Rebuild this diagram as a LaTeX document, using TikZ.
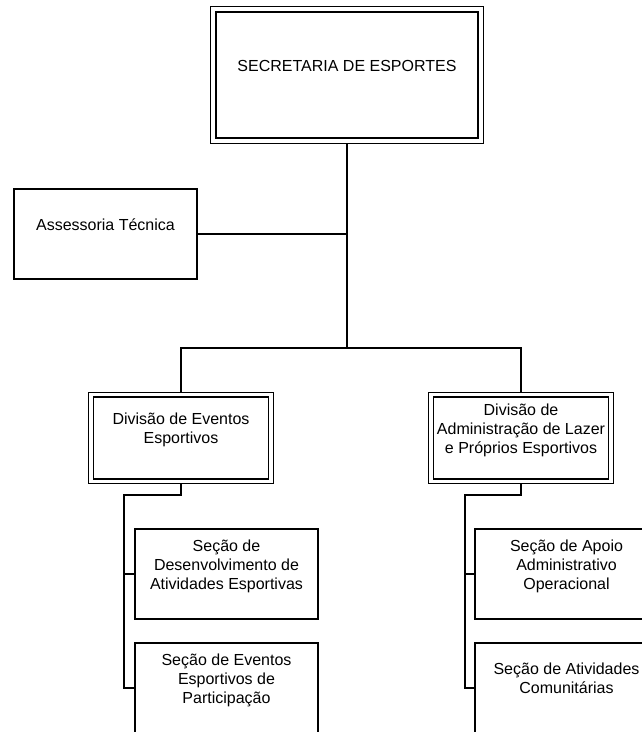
\documentclass[tikz,border=0pt]{standalone}
\usepackage{fontspec}
\setmainfont{Liberation Sans}
\usepackage{xcolor}
\usetikzlibrary{positioning,fit}

\tikzset{
  caixa/.style={draw, line width=1.3pt, minimum width=183pt, minimum height=90pt,
    inner sep=0pt, outer sep=0pt, align=center, font=\fontsize{16}{19}\selectfont},
  divisao/.style={caixa, line width=1.8pt, minimum width=175pt, minimum height=82pt},
  moldura/.style={draw, line width=0.9pt, inner sep=4.6pt, outer sep=0pt},
  ligacao/.style={line width=1.5pt},
}

\begin{document}
\begin{tikzpicture}[x=1pt,y=-1pt]
    \useasboundingbox (0,0) rectangle (642,732);
    \clip (0,0) rectangle (642,732);

    % topo
    \node[divisao, minimum width=262pt, minimum height=126pt] (secretaria) at (347,75) {SECRETARIA DE ESPORTES\\~};
    \node[moldura, inner sep=5.2pt, fit=(secretaria)] (secretariaF) {};
    \node[caixa, line width=2.2pt] (assessoria) at (105.5,234) {Assessoria Técnica\\~};

    % divisoes
    \node[divisao] (divEventos) at (181,438) {Divisão de Eventos\\Esportivos\\~};
    \node[divisao] (divLazer) at (521,438) {Divisão de\\Administração de Lazer\\e Próprios Esportivos\\~};
    \foreach \n in {divEventos,divLazer}
        \node[moldura, fit=(\n)] (\n F) {};

    % secoes
    \node[caixa] (secDesenv) at (226.5,574) {Seção de\\Desenvolvimento de\\Atividades Esportivas\\~};
    \node[caixa, below=24pt of secDesenv] (secPartic) {Seção de Eventos\\Esportivos de\\Participação\\~};
    \node[caixa] (secApoio) at (566.5,574) {Seção de Apoio\\Administrativo\\Operacional\\~};
    \node[caixa, below=24pt of secApoio] (secComun) {Seção de Atividades\\Comunitárias\\~};

    % ligacoes
    \coordinate (barra) at (347,348);
    \coordinate (colEventos) at (124,495);
    \coordinate (colLazer) at (465,495);
    \draw[ligacao] (secretariaF.south) -- (barra);
    \draw[ligacao] (assessoria.east) -- (assessoria.east -| barra);
    \draw[ligacao] (divEventosF.north) |- (barra) -| (divLazerF.north);
    \draw[ligacao] (divEventosF.south) |- (colEventos) |- (secPartic.west);
    \draw[ligacao] (colEventos |- secDesenv.west) -- (secDesenv.west);
    \draw[ligacao] (divLazerF.south) |- (colLazer) |- (secComun.west);
    \draw[ligacao] (colLazer |- secApoio.west) -- (secApoio.west);
\end{tikzpicture}
\end{document}
